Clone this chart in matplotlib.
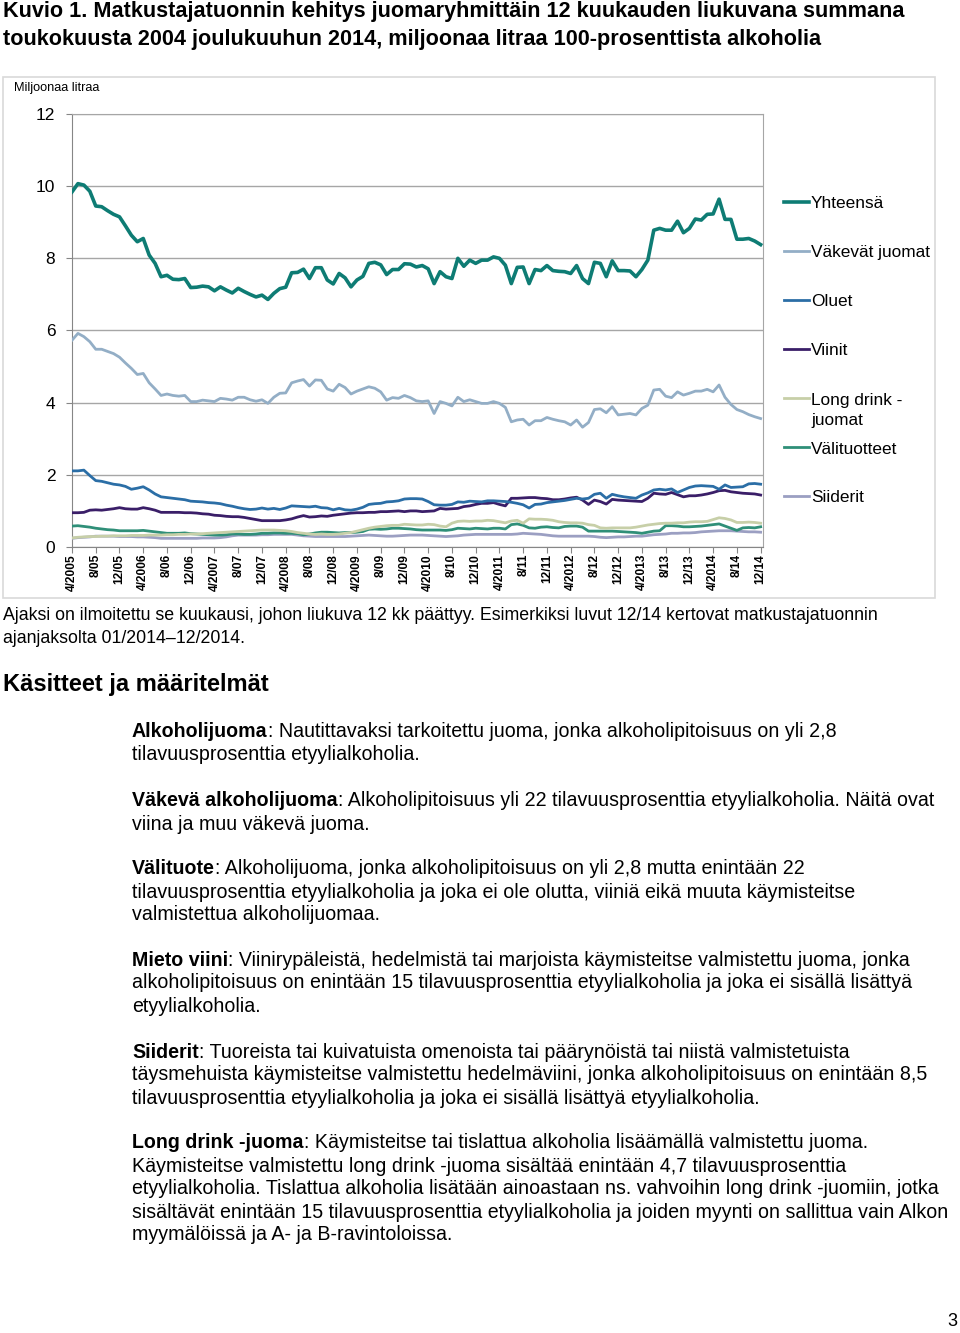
import numpy as np
import matplotlib
matplotlib.use("Agg")
import matplotlib.pyplot as plt
from matplotlib.lines import Line2D
from matplotlib.patches import Rectangle

plt.rcParams['font.family'] = ['Liberation Sans', 'DejaVu Sans']

# %% data, million litres of 100 % alcohol, 12 month moving sum, 4/2005 .. 12/2014

yhteensa = [9.84, 10.07, 10.03, 9.86, 9.45, 9.43, 9.32, 9.22, 9.15, 8.9,
            8.64, 8.46, 8.55, 8.09, 7.86, 7.49, 7.53, 7.42, 7.41, 7.44,
            7.19, 7.2, 7.23, 7.21, 7.1, 7.21, 7.12, 7.04, 7.17, 7.08,
            7.0, 6.93, 6.98, 6.86, 7.03, 7.16, 7.2, 7.6, 7.61, 7.7,
            7.44, 7.74, 7.74, 7.4, 7.29, 7.58, 7.46, 7.21, 7.4, 7.5,
            7.86, 7.89, 7.82, 7.55, 7.69, 7.69, 7.85, 7.84, 7.76, 7.8,
            7.71, 7.3, 7.63, 7.49, 7.44, 8.0, 7.78, 7.95, 7.86, 7.95,
            7.95, 8.04, 8.0, 7.81, 7.3, 7.75, 7.76, 7.3, 7.69, 7.66,
            7.8, 7.66, 7.64, 7.63, 7.58, 7.8, 7.44, 7.3, 7.89, 7.86,
            7.49, 7.93, 7.66, 7.66, 7.65, 7.49, 7.69, 7.95, 8.78, 8.83,
            8.78, 8.78, 9.03, 8.71, 8.83, 9.09, 9.06, 9.22, 9.23, 9.64,
            9.08, 9.08, 8.53, 8.53, 8.55, 8.48, 8.38]

vakevat = [5.73, 5.92, 5.83, 5.69, 5.48, 5.48, 5.42, 5.36, 5.26, 5.1,
           4.95, 4.78, 4.81, 4.55, 4.38, 4.2, 4.24, 4.2, 4.18, 4.2,
           4.03, 4.03, 4.07, 4.05, 4.03, 4.12, 4.1, 4.07, 4.15, 4.15,
           4.08, 4.04, 4.08, 3.98, 4.15, 4.26, 4.27, 4.55, 4.6, 4.64,
           4.46, 4.63, 4.62, 4.38, 4.32, 4.51, 4.42, 4.24, 4.32, 4.38,
           4.44, 4.4, 4.3, 4.07, 4.14, 4.12, 4.2, 4.14, 4.05, 4.03,
           4.05, 3.7, 4.03, 3.98, 3.91, 4.15, 4.03, 4.08, 4.03, 3.98,
           3.98, 4.03, 3.98, 3.87, 3.47, 3.52, 3.54, 3.38, 3.5, 3.5,
           3.59, 3.54, 3.5, 3.47, 3.38, 3.52, 3.32, 3.45, 3.81, 3.83,
           3.72, 3.89, 3.66, 3.68, 3.7, 3.66, 3.84, 3.93, 4.35, 4.37,
           4.18, 4.14, 4.3, 4.21, 4.26, 4.32, 4.32, 4.37, 4.3, 4.49,
           4.15, 3.95, 3.81, 3.75, 3.67, 3.61, 3.56]

oluet = [2.11, 2.11, 2.13, 1.98, 1.84, 1.82, 1.78, 1.74, 1.72, 1.68,
         1.6, 1.63, 1.67, 1.58, 1.47, 1.39, 1.37, 1.35, 1.33, 1.31,
         1.27, 1.26, 1.25, 1.23, 1.22, 1.2, 1.16, 1.13, 1.09, 1.06,
         1.04, 1.05, 1.08, 1.05, 1.07, 1.04, 1.08, 1.14, 1.13, 1.12,
         1.11, 1.13, 1.09, 1.08, 1.03, 1.07, 1.03, 1.02, 1.05, 1.1,
         1.18, 1.2, 1.21, 1.25, 1.26, 1.28, 1.33, 1.34, 1.34, 1.33,
         1.26, 1.17, 1.16, 1.16, 1.18, 1.25, 1.24, 1.27, 1.26, 1.25,
         1.28, 1.28, 1.27, 1.26, 1.24, 1.21, 1.17, 1.08, 1.18, 1.19,
         1.23, 1.25, 1.27, 1.29, 1.32, 1.35, 1.33, 1.35, 1.46, 1.49,
         1.35, 1.46, 1.42, 1.39, 1.37, 1.35, 1.44, 1.5, 1.58, 1.6,
         1.58, 1.61, 1.51, 1.58, 1.65, 1.69, 1.7, 1.69, 1.68, 1.6,
         1.72, 1.65, 1.66, 1.67, 1.75, 1.76, 1.74]

viinit = [0.95, 0.95, 0.96, 1.02, 1.03, 1.02, 1.04, 1.06, 1.09, 1.06,
          1.05, 1.05, 1.09, 1.06, 1.02, 0.96, 0.96, 0.96, 0.96, 0.95,
          0.95, 0.94, 0.92, 0.91, 0.88, 0.87, 0.85, 0.84, 0.84, 0.82,
          0.79, 0.76, 0.73, 0.73, 0.73, 0.73, 0.75, 0.78, 0.83, 0.87,
          0.83, 0.84, 0.86, 0.85, 0.88, 0.9, 0.92, 0.94, 0.95, 0.95,
          0.96, 0.96, 0.98, 0.98, 0.99, 1.0, 0.98, 1.0, 1.0, 0.98,
          0.99, 1.0, 1.07, 1.05, 1.06, 1.07, 1.12, 1.14, 1.18, 1.21,
          1.21, 1.23, 1.18, 1.14, 1.35, 1.35, 1.36, 1.37, 1.37, 1.35,
          1.34, 1.31, 1.31, 1.33, 1.36, 1.38, 1.3, 1.18, 1.3, 1.26,
          1.19, 1.32, 1.3, 1.29, 1.28, 1.27, 1.26, 1.35, 1.49, 1.47,
          1.46, 1.51, 1.45, 1.39, 1.42, 1.42, 1.44, 1.47, 1.51, 1.56,
          1.57, 1.53, 1.51, 1.49, 1.48, 1.47, 1.44]

long_drink = [0.25, 0.27, 0.28, 0.29, 0.29, 0.3, 0.3, 0.31, 0.31, 0.31,
              0.32, 0.32, 0.32, 0.33, 0.33, 0.33, 0.34, 0.34, 0.35, 0.35,
              0.36, 0.36, 0.37, 0.38, 0.39, 0.4, 0.41, 0.42, 0.43, 0.44,
              0.45, 0.46, 0.47, 0.47, 0.47, 0.46, 0.45, 0.43, 0.4, 0.38,
              0.36, 0.35, 0.36, 0.35, 0.35, 0.36, 0.38, 0.4, 0.44, 0.48,
              0.52, 0.55, 0.57, 0.59, 0.6, 0.6, 0.63, 0.62, 0.61, 0.61,
              0.63, 0.62, 0.58, 0.56, 0.66, 0.71, 0.72, 0.71, 0.72, 0.72,
              0.74, 0.73, 0.7, 0.67, 0.72, 0.74, 0.66, 0.78, 0.77, 0.77,
              0.76, 0.74, 0.7, 0.68, 0.67, 0.67, 0.66, 0.62, 0.6, 0.53,
              0.52, 0.53, 0.53, 0.53, 0.53, 0.55, 0.58, 0.61, 0.63, 0.65,
              0.66, 0.66, 0.67, 0.67, 0.69, 0.7, 0.7, 0.71, 0.76, 0.81,
              0.79, 0.75, 0.68, 0.68, 0.69, 0.68, 0.66]

valituotteet = [0.58, 0.59, 0.57, 0.55, 0.52, 0.5, 0.48, 0.47, 0.45, 0.45,
                0.45, 0.45, 0.46, 0.44, 0.42, 0.4, 0.38, 0.38, 0.38, 0.39,
                0.37, 0.36, 0.35, 0.34, 0.33, 0.33, 0.34, 0.36, 0.36, 0.35,
                0.35, 0.36, 0.38, 0.38, 0.39, 0.39, 0.38, 0.38, 0.37, 0.34,
                0.36, 0.39, 0.41, 0.41, 0.4, 0.39, 0.4, 0.4, 0.41, 0.43,
                0.49, 0.5, 0.49, 0.5, 0.52, 0.52, 0.51, 0.5, 0.48, 0.47,
                0.47, 0.47, 0.47, 0.46, 0.48, 0.52, 0.51, 0.5, 0.52, 0.51,
                0.5, 0.52, 0.52, 0.5, 0.62, 0.64, 0.6, 0.53, 0.52, 0.55,
                0.56, 0.54, 0.53, 0.57, 0.58, 0.58, 0.55, 0.44, 0.44, 0.44,
                0.44, 0.44, 0.43, 0.42, 0.41, 0.4, 0.38, 0.41, 0.44, 0.45,
                0.59, 0.59, 0.58, 0.56, 0.56, 0.57, 0.58, 0.6, 0.62, 0.64,
                0.58, 0.52, 0.46, 0.53, 0.54, 0.53, 0.56]

siiderit = [0.24, 0.26, 0.27, 0.28, 0.3, 0.3, 0.3, 0.3, 0.29, 0.29,
            0.29, 0.28, 0.28, 0.27, 0.26, 0.24, 0.24, 0.24, 0.24, 0.24,
            0.24, 0.24, 0.25, 0.25, 0.25, 0.26, 0.28, 0.31, 0.33, 0.33,
            0.33, 0.33, 0.34, 0.34, 0.35, 0.35, 0.35, 0.35, 0.33, 0.31,
            0.3, 0.29, 0.29, 0.29, 0.29, 0.29, 0.29, 0.3, 0.31, 0.32,
            0.33, 0.32, 0.31, 0.3, 0.3, 0.31, 0.32, 0.33, 0.33, 0.33,
            0.32, 0.31, 0.3, 0.29, 0.3, 0.31, 0.33, 0.34, 0.35, 0.35,
            0.35, 0.35, 0.35, 0.35, 0.35, 0.36, 0.38, 0.37, 0.36, 0.35,
            0.33, 0.31, 0.3, 0.3, 0.3, 0.3, 0.3, 0.3, 0.29, 0.27,
            0.26, 0.27, 0.28, 0.28, 0.29, 0.3, 0.3, 0.32, 0.34, 0.35,
            0.36, 0.38, 0.38, 0.39, 0.39, 0.4, 0.42, 0.43, 0.44, 0.45,
            0.45, 0.45, 0.44, 0.43, 0.42, 0.42, 0.41]

tick_labels = ["4/2005", "8/05", "12/05", "4/2006", "8/06", "12/06",
               "4/2007", "8/07", "12/07", "4/2008", "8/08", "12/08",
               "4/2009", "8/09", "12/09", "4/2010", "8/10", "12/10",
               "4/2011", "8/11", "12/11", "4/2012", "8/12", "12/12",
               "4/2013", "8/13", "12/13", "4/2014", "8/14", "12/14"]

series_names = ["Yhteensä", "Väkevät juomat", "Oluet", "Viinit",
                "Long drink -\njuomat", "Välituotteet", "Siiderit"]

# %% figure

W, H = 960, 1333
fig = plt.figure(figsize=(W / 100, H / 100), dpi=100)


def fx(px):
    return px / W


def fy(py):
    return 1 - py / H


# chart frame
fig.patches.append(Rectangle((fx(3), fy(598)), fx(935) - fx(3), fy(77) - fy(598),
                             transform=fig.transFigure, fill=False,
                             edgecolor="#d9d9d9", lw=1.2))

ax = fig.add_axes([fx(72), fy(547), fx(763) - fx(72), fy(114) - fy(547)])

months = np.arange(len(yhteensa))
styles = [
    (yhteensa, "#0e7c74", 2.6),
    (vakevat, "#93aec6", 2.0),
    (oluet, "#2b6ea6", 2.0),
    (viinit, "#3a1e68", 2.0),
    (long_drink, "#c7cfa8", 2.0),
    (valituotteet, "#2f8f78", 2.0),
    (siiderit, "#9b9fc2", 2.0),
]
# draw small series first so the total stays on top
for data, col, lw in styles[::-1]:
    ax.plot(months, data, color=col, lw=lw, solid_joinstyle="round", zorder=3)

ax.set_xlim(0, 116.4)
ax.set_ylim(0, 12)
ax.set_yticks(np.arange(0, 13, 2))
ax.set_yticklabels([str(v) for v in range(0, 13, 2)], fontsize=12.5)
ax.set_xticks(months[::4])
ax.set_xticklabels(tick_labels, rotation=90, fontsize=8.6, fontweight="bold")
ax.grid(axis="y", color="#a6a6a6", lw=1)
ax.set_axisbelow(True)
for side in ["top", "right"]:
    ax.spines[side].set_color("#a6a6a6")
for side in ["left", "bottom"]:
    ax.spines[side].set_color("#868686")
ax.tick_params(axis="y", length=4, color="#868686", pad=8)
ax.tick_params(axis="x", length=4, color="#868686", pad=1)

fig.text(fx(14), fy(88), "Miljoonaa litraa", fontsize=9.2, va="center")

# legend
leg_y = [202, 251, 300, 349, 398, 447, 496]
for (data, col, lw), name, y in zip(styles, series_names, leg_y):
    fig.lines.append(Line2D([fx(784), fx(809)], [fy(y), fy(y)],
                            transform=fig.transFigure, color=col, lw=lw))
    for k, part in enumerate(name.split("\n")):
        fig.text(fx(811), fy(y + 2 + 20 * k), part, fontsize=12.4, va="center")

# title
fig.text(fx(3), fy(12), "Kuvio 1. Matkustajatuonnin kehitys juomaryhmittäin 12 kuukauden liukuvana summana",
         fontsize=15.6, fontweight="bold", va="center")
fig.text(fx(3), fy(40), "toukokuusta 2004 joulukuuhun 2014, miljoonaa litraa 100-prosenttista alkoholia",
         fontsize=15.6, fontweight="bold", va="center")

fig.text(fx(3), fy(615), "Ajaksi on ilmoitettu se kuukausi, johon liukuva 12 kk päättyy. "
         "Esimerkiksi luvut 12/14 kertovat matkustajatuonnin", fontsize=12.8, va="center")
fig.text(fx(3), fy(638), "ajanjaksolta 01/2014\u201312/2014.", fontsize=12.8, va="center")

fig.text(fx(3), fy(685), "Käsitteet ja määritelmät", fontsize=17, fontweight="bold", va="center")

definitions = [
    (732, "Alkoholijuoma", [": Nautittavaksi tarkoitettu juoma, jonka alkoholipitoisuus on yli 2,8",
                            "tilavuusprosenttia etyylialkoholia."]),
    (801, "Väkevä alkoholijuoma", [": Alkoholipitoisuus yli 22 tilavuusprosenttia etyylialkoholia. Näitä ovat",
                                   "viina ja muu väkevä juoma."]),
    (869, "Välituote", [": Alkoholijuoma, jonka alkoholipitoisuus on yli 2,8 mutta enintään 22",
                        "tilavuusprosenttia etyylialkoholia ja joka ei ole olutta, viiniä eikä muuta käymisteitse",
                        "valmistettua alkoholijuomaa."]),
    (960, "Mieto viini", [": Viinirypäleistä, hedelmistä tai marjoista käymisteitse valmistettu juoma, jonka",
                          "alkoholipitoisuus on enintään 15 tilavuusprosenttia etyylialkoholia ja joka ei sisällä lisättyä",
                          "etyylialkoholia."]),
    (1052, "Siiderit", [": Tuoreista tai kuivatuista omenoista tai päärynöistä tai niistä valmistetuista",
                        "täysmehuista käymisteitse valmistettu hedelmäviini, jonka alkoholipitoisuus on enintään 8,5",
                        "tilavuusprosenttia etyylialkoholia ja joka ei sisällä lisättyä etyylialkoholia."]),
    (1143, "Long drink -juoma", [": Käymisteitse tai tislattua alkoholia lisäämällä valmistettu juoma.",
                                 "Käymisteitse valmistettu long drink -juoma sisältää enintään 4,7 tilavuusprosenttia",
                                 "etyylialkoholia. Tislattua alkoholia lisätään ainoastaan ns. vahvoihin long drink -juomiin, jotka",
                                 "sisältävät enintään 15 tilavuusprosenttia etyylialkoholia ja joiden myynti on sallittua vain Alkon",
                                 "myymälöissä ja A- ja B-ravintoloissa."]),
]

renderer = fig.canvas.get_renderer()
fs = 14.1
for y0, bold, lines in definitions:
    t = fig.text(fx(132), fy(y0), bold, fontsize=fs, fontweight="bold", va="center")
    x1 = t.get_window_extent(renderer).x1
    fig.text(x1 / W, fy(y0), lines[0], fontsize=fs, va="center")
    for i, line in enumerate(lines[1:], start=1):
        fig.text(fx(132), fy(y0 + 23 * i), line, fontsize=fs, va="center")

fig.text(fx(957), fy(1322), "3", fontsize=13, ha="right", va="center")

fig.savefig("out.png", dpi=100)
